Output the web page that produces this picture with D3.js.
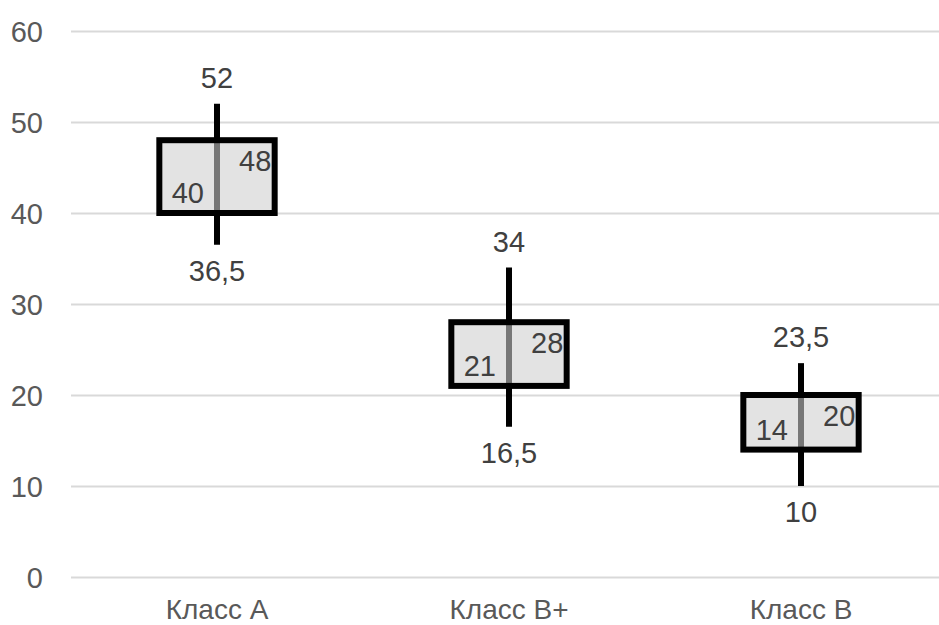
<!DOCTYPE html>
<html>
<head>
<meta charset="utf-8">
<script src="https://cdn.jsdelivr.net/npm/d3@7"></script>
<style>
  html, body { margin: 0; padding: 0; background: #fff; }
  svg { display: block; font-family: "Liberation Sans", Arial, sans-serif; }
</style>
</head>
<body>
<svg id="chart" width="939" height="625"></svg>
<script>
// Data
const categories = ["Класс A", "Класс B+", "Класс B"];
const openVals  = [40, 21, 14];
const highVals  = [52, 34, 23.5];
const lowVals   = [36.5, 16.5, 10];
const closeVals = [48, 28, 20];
const yTicks = [0, 10, 20, 30, 40, 50, 60];

const fmt = v => String(v).replace(".", ",");

const svg = d3.select("#chart");
const plot = { left: 71, right: 947, top: 31, bottom: 577 };

const x = d3.scaleBand().domain(categories).range([plot.left, plot.right]).paddingInner(0).paddingOuter(0);
const y = d3.scaleLinear().domain([0, 60]).range([plot.bottom, plot.top]);

const data = categories.map((c, i) => ({
  cat: c, open: openVals[i], high: highVals[i], low: lowVals[i], close: closeVals[i]
}));

// Gridlines
const yAxis = d3.axisLeft(y).tickValues(yTicks).tickSize(-(plot.right - plot.left)).tickFormat(d => d);
const gy = svg.append("g").attr("transform", `translate(${plot.left},0)`).call(yAxis);
gy.select(".domain").remove();
gy.selectAll(".tick line").attr("stroke", "#d9d9d9").attr("stroke-width", 2);
gy.selectAll(".tick text")
  .attr("x", -28).attr("dy", "0.35em")
  .attr("fill", "#595959").attr("font-size", 29).attr("text-anchor", "end");

// Category axis labels
const xAxis = d3.axisBottom(x).tickSize(0).tickPadding(0);
const gx = svg.append("g").attr("transform", `translate(0,${plot.bottom})`).call(xAxis);
gx.select(".domain").remove();
gx.selectAll(".tick text")
  .attr("y", 42).attr("dy", 0)
  .attr("fill", "#595959").attr("font-size", 28).attr("font-family", "\"Liberation Sans\", Arial, sans-serif");

const cx = d => x(d.cat) + x.bandwidth() / 2;
const boxW = x.bandwidth() * 0.395;

// Whiskers (high-low lines)
svg.append("g").selectAll("line").data(data).join("line")
  .attr("x1", cx).attr("x2", cx)
  .attr("y1", d => y(d.high)).attr("y2", d => y(d.low))
  .attr("stroke", "#000").attr("stroke-width", 6);

// Boxes (up bars)
svg.append("g").selectAll("rect").data(data).join("rect")
  .attr("x", d => cx(d) - boxW / 2)
  .attr("y", d => y(Math.max(d.open, d.close)))
  .attr("width", boxW)
  .attr("height", d => Math.abs(y(d.open) - y(d.close)))
  .attr("fill", "rgb(206,206,206)").attr("fill-opacity", 0.576)
  .attr("stroke", "#000").attr("stroke-width", 6);

const labels = svg.append("g").attr("fill", "#404040").attr("font-size", 29);

// High labels
labels.selectAll(".hi").data(data).join("text").attr("class", "hi")
  .attr("x", cx).attr("y", d => y(d.high) - 16)
  .attr("text-anchor", "middle").text(d => fmt(d.high));

// Low labels
labels.selectAll(".lo").data(data).join("text").attr("class", "lo")
  .attr("x", cx).attr("y", d => y(d.low) + 36)
  .attr("text-anchor", "middle").text(d => fmt(d.low));

// Open labels
labels.selectAll(".op").data(data).join("text").attr("class", "op")
  .attr("x", d => cx(d) - 13).attr("y", d => y(d.open) - 10)
  .attr("text-anchor", "end").text(d => fmt(d.open));

// Close labels
labels.selectAll(".cl").data(data).join("text").attr("class", "cl")
  .attr("x", d => cx(d) + 22).attr("y", d => y(d.close) + 31)
  .attr("text-anchor", "start").text(d => fmt(d.close));
</script>
</body>
</html>
